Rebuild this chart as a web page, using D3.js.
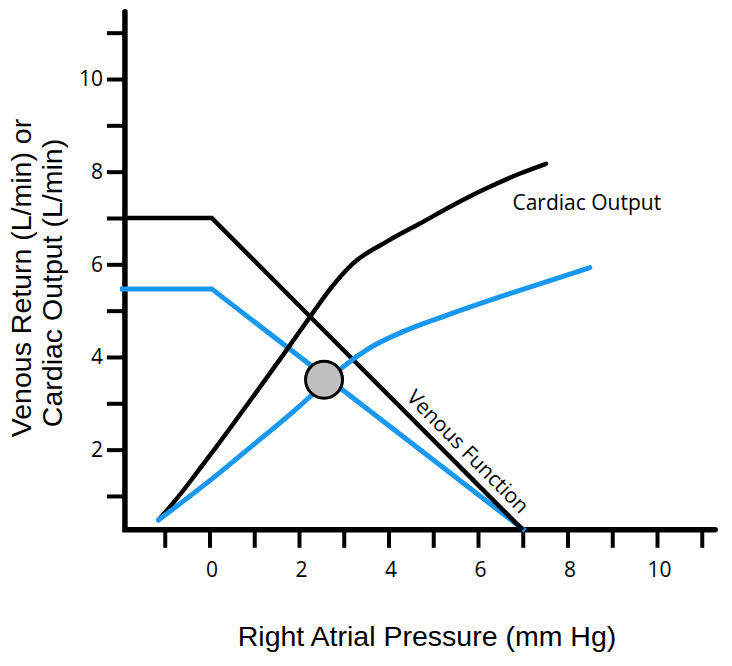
<!DOCTYPE html>
<html>
<head>
<meta charset="utf-8">
<script src="https://cdn.jsdelivr.net/npm/d3@7"></script>
<style>
  body { margin: 0; background: #fff; }
  svg { display: block; }
</style>
</head>
<body>
<svg id="chart"></svg>
<script>
// values (x = right atrial pressure, y = L/min)
var venousBlackX = [-1.85, 0.05, 7.0];
var venousBlackY = [7.0, 7.0, 0.27];
var venousBlueX = [-2.0, 0.05, 7.05];
var venousBlueY = [5.47, 5.47, 0.25];

var cardiacBlackX = [-1.14, -0.75, -0.3, 0.16, 0.91, 1.65, 2.25, 2.69, 3.21, 3.96, 4.7, 5.45, 6.19, 6.94, 7.52];
var cardiacBlackY = [0.48, 0.92, 1.48, 2.07, 3.06, 4.05, 4.87, 5.46, 6.02, 6.49, 6.88, 7.28, 7.64, 7.96, 8.17];
var cardiacBlueX = [-1.14, 0.16, 1.0, 2.0, 2.56, 2.98, 3.59, 4.26, 5.3, 6.78, 8.5];
var cardiacBlueY = [0.48, 1.45, 2.12, 2.93, 3.42, 3.78, 4.2, 4.52, 4.9, 5.39, 5.93];

var equilibrium = [2.56, 3.51];

var xTicks = [-1, 0, 1, 2, 3, 4, 5, 6, 7, 8, 9, 10, 11];
var xTickLabels = ["", "0", "", "2", "", "4", "", "6", "", "8", "", "10", ""];
var yTicks = [1, 2, 3, 4, 5, 6, 7, 8, 9, 10, 11];
var yTickLabels = ["", "2", "", "4", "", "6", "", "8", "", "10", ""];

var width = 732, height = 666;
var blue = "#1898f0";

var svg = d3.select("#chart")
    .attr("width", width)
    .attr("height", height);

var xScale = d3.scaleLinear()
    .domain([0, 10])
    .range([209.5, 657]);
var yScale = d3.scaleLinear()
    .domain([0, 10])
    .range([542.3, 79]);

// where the axes sit, in data units
var xMin = -1.89, xMax = 11.3;
var yBase = 0.27, yTop = 11.45;

var zip = function(xs, ys) {
    return xs.map(function(x, i) { return [x, ys[i]]; });
};

var straight = d3.line()
    .x(function(d) { return xScale(d[0]); })
    .y(function(d) { return yScale(d[1]); });
var smooth = d3.line()
    .x(function(d) { return xScale(d[0]); })
    .y(function(d) { return yScale(d[1]); })
    .curve(d3.curveMonotoneX);

// axes
var xAxis = d3.axisBottom(xScale)
    .tickValues(xTicks)
    .tickSize(18)
    .tickPadding(14)
    .tickFormat(function(d, i) { return xTickLabels[i]; });
var yAxis = d3.axisLeft(yScale)
    .tickValues(yTicks)
    .tickSize(18)
    .tickPadding(4)
    .tickFormat(function(d, i) { return yTickLabels[i]; });

var gx = svg.append("g")
    .attr("transform", "translate(0," + yScale(yBase) + ")")
    .call(xAxis);
var gy = svg.append("g")
    .attr("transform", "translate(" + xScale(xMin) + ",0)")
    .call(yAxis);

[gx, gy].forEach(function(g) {
    g.select(".domain").remove();
    g.selectAll(".tick line").attr("stroke", "#000").attr("stroke-width", 4);
    g.selectAll(".tick text")
        .attr("fill", "#000")
        .style("font-family", "'Open Sans', sans-serif")
        .style("font-size", "21px");
});
gx.selectAll(".tick text").attr("dx", 2);

svg.append("path")
    .datum([[xMin, yTop], [xMin, yBase], [xMax, yBase]])
    .attr("d", straight)
    .attr("fill", "none")
    .attr("stroke", "#000")
    .attr("stroke-width", 5.5)
    .attr("stroke-linecap", "round")
    .attr("stroke-linejoin", "miter");

// curves
svg.append("path")
    .datum(zip(venousBlueX, venousBlueY))
    .attr("d", straight)
    .attr("fill", "none")
    .attr("stroke", blue)
    .attr("stroke-width", 5);

svg.append("path")
    .datum(zip(cardiacBlackX, cardiacBlackY))
    .attr("d", smooth)
    .attr("fill", "none")
    .attr("stroke", "#000")
    .attr("stroke-width", 4.5)
    .attr("stroke-linecap", "round");

svg.append("path")
    .datum(zip(venousBlackX, venousBlackY))
    .attr("d", straight)
    .attr("fill", "none")
    .attr("stroke", "#000")
    .attr("stroke-width", 4.5);

svg.append("path")
    .datum(zip(cardiacBlueX, cardiacBlueY))
    .attr("d", smooth)
    .attr("fill", "none")
    .attr("stroke", blue)
    .attr("stroke-width", 5)
    .attr("stroke-linecap", "round");

svg.append("circle")
    .attr("cx", xScale(equilibrium[0]))
    .attr("cy", yScale(equilibrium[1]))
    .attr("r", 18.5)
    .attr("fill", "#bfbfbf")
    .attr("stroke", "#000")
    .attr("stroke-width", 3);

// labels
svg.append("text")
    .attr("x", xScale(6.77))
    .attr("y", yScale(7.18))
    .attr("fill", "#000")
    .style("font-family", "'Open Sans', sans-serif")
    .style("font-size", "21px")
    .text("Cardiac Output");

svg.append("text")
    .attr("transform", "translate(" + xScale(5.66) + "," + yScale(1.85) + ") rotate(45.3)")
    .attr("text-anchor", "middle")
    .attr("fill", "#000")
    .style("font-family", "'Open Sans', sans-serif")
    .style("font-size", "21px")
    .text("Venous Function");

svg.append("text")
    .attr("x", 427)
    .attr("y", 646)
    .attr("text-anchor", "middle")
    .attr("fill", "#000")
    .style("font-family", "'Liberation Sans', Arial, sans-serif")
    .style("font-size", "28.5px")
    .text("Right Atrial Pressure (mm Hg)");

var ytitle = svg.append("text")
    .attr("transform", "rotate(-90)")
    .attr("text-anchor", "middle")
    .attr("fill", "#000")
    .style("font-family", "'Liberation Sans', Arial, sans-serif")
    .style("font-size", "28.5px");
ytitle.append("tspan").attr("x", -278).attr("y", 31).text("Venous Return (L/min) or");
ytitle.append("tspan").attr("x", -283).attr("y", 62).text("Cardiac Output (L/min)");
</script>
</body>
</html>
